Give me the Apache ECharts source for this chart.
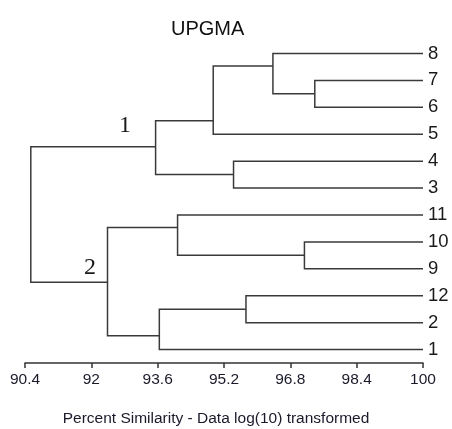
<!DOCTYPE html>
<html>
<head>
<meta charset="utf-8">
<script src="https://cdn.jsdelivr.net/npm/echarts@6/dist/echarts.min.js"></script>
<style>
  html, body { margin: 0; padding: 0; background: #fff; }
  #chart { width: 452px; height: 429px; }
</style>
</head>
<body>
<div id="chart"></div>
<script>
// leaves, top to bottom
const leaves = ['8', '7', '6', '5', '4', '3', '11', '10', '9', '12', '2', '1'];

// merges (node i = 'n' + i): children, similarity level, row where the branch leaves the node
const mergeA = ['7', '8', 'n1', '4', 'n2', '10', '11', '12', 'n7', 'n6', 'n4'];
const mergeB = ['6', 'n0', '5', '3', 'n3', '9', 'n5', '2', '1', 'n8', 'n9'];
const mergeSim = [97.39, 96.38, 94.94, 95.43, 93.55, 97.14, 94.08, 95.73, 93.64, 92.39, 90.54];
const mergeRow = [1.5, 0.47, 2.5, 4.5, 3.47, 7.5, 6.47, 9.5, 10.49, 8.5, 5.98];

// x axis ticks
const tickValues = [90.4, 92, 93.6, 95.2, 96.8, 98.4, 100];
const tickLabels = ['90.4', '92', '93.6', '95.2', '96.8', '98.4', '100'];

const clusterNames = ['1', '2'];

function pos(id) {
  if (id.charAt(0) === 'n') {
    const i = +id.slice(1);
    return [mergeSim[i], mergeRow[i]];
  }
  return [100, leaves.indexOf(id)];
}

// one elbow per merge: child A -> node level -> child B
const branches = mergeSim.map((s, i) => {
  const a = pos(mergeA[i]);
  const b = pos(mergeB[i]);
  return { coords: [a, [s, a[1]], [s, b[1]], b] };
});

const chart = echarts.init(document.getElementById('chart'));

chart.setOption({
  animation: false,
  title: {
    text: 'UPGMA',
    left: 166,
    top: 14,
    textStyle: { fontFamily: 'Liberation Sans, Arial', fontSize: 20, fontWeight: 'normal', color: '#111' }
  },
  grid: { left: 25, right: 29, top: 40, bottom: 66, containLabel: false, outerBoundsMode: 'none' },
  xAxis: {
    type: 'value',
    min: 90.4,
    max: 100,
    name: 'Percent Similarity - Data log(10) transformed',
    nameLocation: 'middle',
    nameGap: 48,
    nameTextStyle: { fontFamily: 'Liberation Sans, Arial', fontSize: 15.5, color: '#1a1a2a', padding: [0, 16, 0, 0] },
    axisLine: { show: true, onZero: false, lineStyle: { color: '#333', width: 1.5 } },
    axisTick: { show: true, inside: false, length: 5, customValues: tickValues, lineStyle: { color: '#333', width: 1.5 } },
    axisLabel: {
      customValues: tickValues,
      margin: 9,
      fontFamily: 'Liberation Sans, Arial',
      fontSize: 15.5,
      color: '#1a1a2a',
      formatter: (v) => tickLabels[tickValues.findIndex(t => Math.abs(t - v) < 1e-6)]
    },
    splitLine: { show: false }
  },
  yAxis: [
    {
      type: 'value',
      min: -0.5,
      max: 11.5,
      inverse: true,
      show: false
    },
    {
      type: 'category',
      data: leaves,
      inverse: true,
      position: 'right',
      axisLine: { show: false },
      axisTick: { show: false },
      splitLine: { show: false },
      axisLabel: { margin: 5, fontFamily: 'Liberation Sans, Arial', fontSize: 18.5, color: '#1a1a1a' }
    }
  ],
  series: [
    {
      type: 'lines',
      coordinateSystem: 'cartesian2d',
      xAxisIndex: 0,
      yAxisIndex: 0,
      polyline: true,
      silent: true,
      lineStyle: { color: '#3a3a3a', width: 1.5, opacity: 1 },
      data: branches
    }
  ],
  graphic: [
    {
      type: 'text', x: 125, y: 126,
      style: { text: clusterNames[0], fontFamily: 'Liberation Serif, Times New Roman', fontSize: 24, fill: '#1a1a1a', align: 'center', verticalAlign: 'middle' }
    },
    {
      type: 'text', x: 90, y: 268,
      style: { text: clusterNames[1], fontFamily: 'Liberation Serif, Times New Roman', fontSize: 24, fill: '#1a1a1a', align: 'center', verticalAlign: 'middle' }
    }
  ]
});
</script>
</body>
</html>
